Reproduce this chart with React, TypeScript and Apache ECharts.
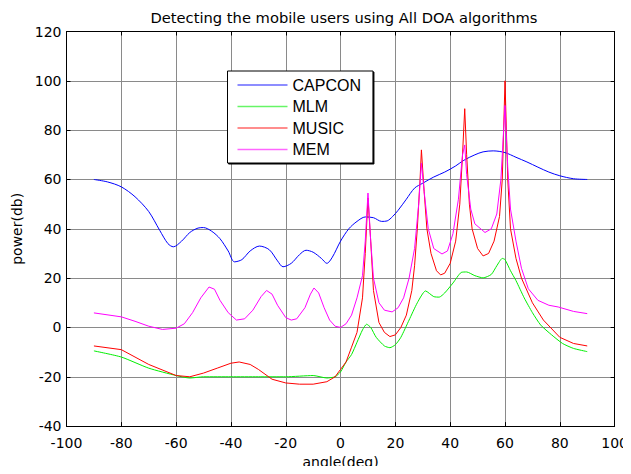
import React, { useEffect, useRef } from "react";
import * as echarts from "echarts";

const xTicks = [-100, -80, -60, -40, -20, 0, 20, 40, 60, 80, 100];
const yTicks = [-40, -20, 0, 20, 40, 60, 80, 100, 120];

const capconX = [-90, -85, -80, -75, -70, -66, -63, -61, -58, -55, -52, -50, -47, -44, -41, -38.7, -36, -33, -29.6, -26, -23, -21, -18, -15, -12.6, -10, -7, -5, -3, 0, 3, 6, 9, 12, 15, 17, 19, 21, 24, 27, 30, 34, 38, 42, 45, 49, 52, 55.7, 60, 64, 68, 72, 76, 80, 85, 90];
const capconY = [60, 59, 57, 53, 47, 39.4, 34, 32.7, 35, 38.5, 40.3, 40.5, 39, 36, 31, 26.6, 27.5, 31, 33, 31.5, 27, 24.6, 26, 29.5, 31.3, 30.5, 28, 26, 28.5, 35, 40, 43, 44.8, 44.5, 43, 43.2, 45, 47.5, 52, 56.5, 58.5, 61, 63, 65.5, 67.8, 70, 71.2, 71.6, 70.9, 69, 67.1, 65, 63, 61.5, 60.3, 60];

const mlmX = [-90, -80, -70, -60, -55, -50, -40, -30, -20, -10, -5, -2, 0, 2, 4, 6, 8, 9.5, 11, 13, 16, 18, 20, 22, 25, 28, 31, 34, 36, 38, 41, 44, 46, 49, 52, 55, 57, 59, 60, 62, 64, 67, 70, 73, 77, 81, 85, 90];
const mlmY = [-9.5, -12, -16.5, -19.5, -20.5, -20, -20, -20, -20, -19.5, -20.5, -20, -18, -14, -11, -6, -1, 1.3, 0, -4, -7.5, -8.2, -7, -4, 3, 10, 14.8, 12.5, 12.3, 14, 18, 22.3, 22.5, 21, 20.1, 21.5, 25, 28, 27.5, 23, 19, 12, 6, 1, -3, -6.5, -8.5, -9.8];

const musicX = [-90, -80, -70, -60, -55, -50, -45, -40, -37, -33, -30, -25, -20, -15, -10, -5, -2, 0, 2, 4, 6, 8, 9, 10, 11, 12, 14, 16, 18, 20, 22, 24, 26, 27, 28, 29, 29.5, 30.5, 31.5, 33, 35, 36.5, 38, 40, 42, 43.5, 44.5, 45.3, 46, 47, 48, 50, 52, 54, 56, 58, 59, 60, 61, 62, 64, 66, 70, 74, 80, 85, 90];
const musicY = [-7.5, -9, -15, -19.5, -20, -18.5, -16.5, -14.5, -14, -15, -17, -21, -22.5, -23, -23, -22, -20, -17, -14, -8, -2, 12, 30, 52.5, 35, 15, 2, -2, -3.7, -3, 0, 5, 15, 25, 40, 60, 72, 55, 40, 30, 23, 21.3, 22, 26, 35, 50, 70, 88.7, 70, 50, 40, 32, 29, 30, 35, 45, 60, 100, 60, 40, 28, 20, 10, 3, -4, -6.5, -7.5];

const memX = [-90, -80, -75, -70, -65, -60, -57, -54, -51, -48, -46, -44, -41, -38, -35, -32, -29, -27, -25, -23, -20, -18, -16, -13, -11, -9.7, -8, -6, -4, -2, 0, 2, 4, 6, 8, 9, 10, 11, 12, 14, 16, 18.8, 21, 23, 25, 27, 28.5, 29.5, 30.5, 32, 34, 37, 39, 41, 43, 44.5, 45.3, 46, 47.5, 49, 52.7, 55, 57, 58.5, 60, 61, 62, 64, 66, 68.5, 72, 76, 79.4, 85, 90];
const memY = [5.9, 4.3, 2.5, 0.5, -0.8, -0.3, 1.5, 6, 12, 16.4, 15.5, 11, 6, 3, 3.5, 7, 12.5, 15, 13.5, 9, 4, 3, 3.5, 8, 13.5, 16, 14, 8, 3, 0.5, 0, 1.5, 5, 12, 21, 35, 54.5, 35, 20, 10, 7, 6.3, 8, 12, 20, 32, 50, 66.6, 55, 40, 32, 29.8, 31, 38, 52, 70, 74, 62, 48, 42, 38.5, 40, 46, 60, 90, 65, 48, 35, 24, 15.7, 11, 9, 8.3, 6.5, 5.6];

const zip = (xs: number[], ys: number[]) => xs.map((x, i) => [x, ys[i]]);

const FONT = "'DejaVu Sans', sans-serif";
const LFONT = "'Liberation Sans', Arial, sans-serif";

export default function App() {
  const ref = useRef<HTMLDivElement>(null);
  useEffect(() => {
    if (!ref.current) return;
    const chart = echarts.init(ref.current, undefined, { renderer: "svg" });
    const mkSeries = (name: string, xs: number[], ys: number[], color: string, smooth: number | boolean) => ({
      name,
      type: "line",
      data: zip(xs, ys),
      symbol: "none",
      smooth,
      xAxisIndex: 0,
      yAxisIndex: 0,
      lineStyle: { color, width: 1 },
      itemStyle: { color },
      z: 3,
    });
    chart.setOption({
      animation: false,
      backgroundColor: "#ffffff",
      textStyle: { fontFamily: FONT },
      title: {
        text: "Detecting the mobile users using All DOA algorithms",
        left: 339,
        textAlign: "center",
        top: 5,
        textStyle: { fontFamily: FONT, fontSize: 14.7, fontWeight: "normal", color: "#000" },
      },
      grid: { left: 66.5, right: 14.5, top: 31.5, bottom: 45.5, containLabel: false },
      legend: {
        orient: "vertical",
        left: 227.5,
        top: 71,
        data: ["CAPCON", "MLM", "MUSIC", "MEM"],
        icon: "rect",
        backgroundColor: "#ffffff",
        borderColor: "#000",
        borderWidth: 1,
        shadowColor: "#000",
        shadowOffsetX: 1,
        shadowOffsetY: 1,
        shadowBlur: 0,
        padding: [6, 12, 5.5, 10],
        itemWidth: 50,
        itemHeight: 1.5,
        itemGap: 5.5,
        itemStyle: { opacity: 0.6 },
        textStyle: { fontFamily: LFONT, fontSize: 16, color: "#000", padding: [0, 0, 0, 0] },
      },
      xAxis: [
        {
          type: "value",
          min: -100,
          max: 100,
          interval: 20,
          name: "angle(deg)",
          nameLocation: "middle",
          nameGap: 27,
          nameTextStyle: { fontFamily: FONT, fontSize: 14, color: "#000" },
          axisLine: { onZero: false, lineStyle: { color: "#000", width: 1 } },
          axisTick: { inside: true, length: 4, lineStyle: { color: "#000" } },
          axisLabel: { color: "#000", fontSize: 14, fontFamily: FONT, margin: 10, formatter: (v: number) => String(v) },
          splitLine: { show: true, lineStyle: { color: "#8a8a8a", width: 1 } },
        },
        {
          type: "value",
          position: "top",
          min: -100,
          max: 100,
          interval: 20,
          axisLine: { onZero: false, lineStyle: { color: "#000", width: 1 } },
          axisTick: { inside: true, length: 4, lineStyle: { color: "#000" } },
          axisLabel: { show: false },
          splitLine: { show: false },
        },
      ],
      yAxis: [
        {
          type: "value",
          min: -40,
          max: 120,
          interval: 20,
          name: "power(db)",
          nameLocation: "middle",
          nameGap: 40,
          nameRotate: 90,
          nameTextStyle: { fontFamily: FONT, fontSize: 14, color: "#000" },
          axisLine: { show: true, onZero: false, lineStyle: { color: "#000", width: 1 } },
          axisTick: { show: true, inside: true, length: 4, lineStyle: { color: "#000" } },
          axisLabel: { color: "#000", fontSize: 14, fontFamily: FONT, margin: 5 },
          splitLine: { show: true, lineStyle: { color: "#8a8a8a", width: 1 } },
        },
        {
          type: "value",
          position: "right",
          min: -40,
          max: 120,
          interval: 20,
          axisLine: { show: true, onZero: false, lineStyle: { color: "#000", width: 1 } },
          axisTick: { show: true, inside: true, length: 4, lineStyle: { color: "#000" } },
          axisLabel: { show: false },
          splitLine: { show: false },
        },
      ],
      series: [
        mkSeries("CAPCON", capconX, capconY, "#0000ff", 0.3),
        mkSeries("MLM", mlmX, mlmY, "#00ee00", 0.2),
        mkSeries("MUSIC", musicX, musicY, "#ff0000", false),
        mkSeries("MEM", memX, memY, "#ff00ff", false),
      ],
    });
    return () => chart.dispose();
  }, []);
  return (
    <div style={{ margin: -8 }}>
      <div ref={ref} style={{ width: 631, height: 474 }} data-ticks={xTicks.length + yTicks.length} />
    </div>
  );
}
